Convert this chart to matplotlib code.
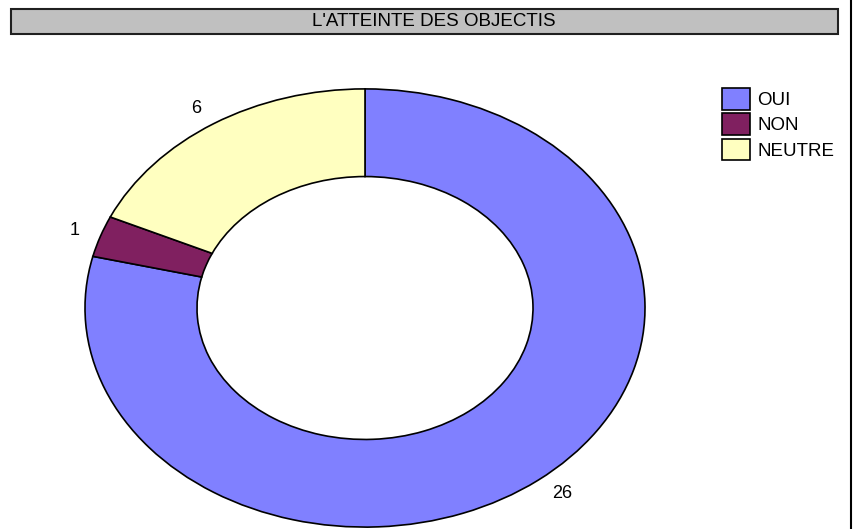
import matplotlib.pyplot as plt
from matplotlib.patches import Rectangle
from matplotlib.lines import Line2D

plt.rcParams['font.family'] = ['Liberation Sans', 'DejaVu Sans']

title = "L'ATTEINTE DES OBJECTIS"
categories = ["OUI", "NON", "NEUTRE"]
values = [26, 1, 6]
colors = ["#8080FF", "#802060", "#FFFFC0"]

W, H = 856, 529
fig = plt.figure(figsize=(W / 100, H / 100), dpi=100)

# title box (gray bar with dark border)
fig.patches.append(Rectangle((11 / W, 1 - 34 / H), (838 - 11) / W, 25 / H,
                             transform=fig.transFigure, facecolor="#C0C0C0",
                             edgecolor="#202020", linewidth=1.5))
fig.text(434 / W, 1 - 21.5 / H, title, ha="center", va="center", fontsize=13.5)

# right border of the chart area
fig.lines.append(Line2D([851 / W, 851 / W], [0, 1], transform=fig.transFigure,
                        color="black", linewidth=1.5))

# donut, stretched into an ellipse
ax = fig.add_axes([57 / W, (529 - 549) / H, 616 / W, 482 / H])
wedges, texts = ax.pie(values, colors=colors, startangle=90, counterclock=False,
                       labels=[str(v) for v in values], labeldistance=1.08,
                       textprops=dict(fontsize=13),
                       wedgeprops=dict(width=0.4, edgecolor="black", linewidth=1.2))
ax.set_aspect("auto")
ax.set_xlim(-1.1, 1.1)
ax.set_ylim(-1.1, 1.1)

fig.legend(wedges, categories, loc="upper left",
           bbox_to_anchor=(722 / W, 1 - 88 / H), frameon=False,
           borderpad=0, borderaxespad=0, fontsize=13.5,
           handlelength=1.5, handleheight=1.4, labelspacing=0.2,
           handletextpad=0.4)

fig.savefig("out.png", dpi=100)
